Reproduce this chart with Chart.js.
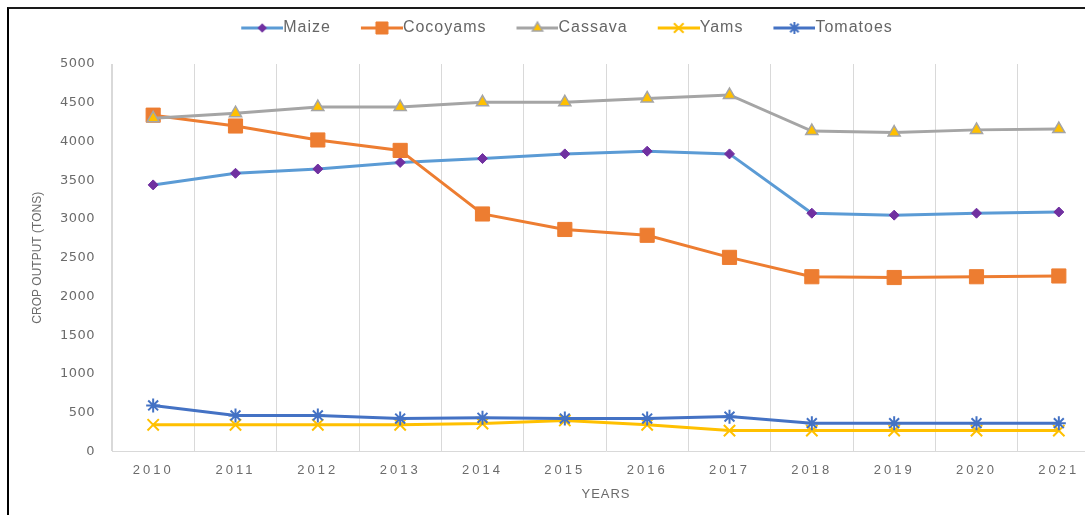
<!DOCTYPE html>
<html><head><meta charset="utf-8">
<script src="https://cdn.jsdelivr.net/npm/chart.js@4.4.1/dist/chart.umd.min.js"></script>
<style>
html,body{margin:0;padding:0;background:#fff;overflow:hidden;width:1085px;height:515px;}
#c{position:absolute;left:0;top:0;}
#frame{position:absolute;left:7px;top:7px;width:2000px;height:2000px;border-left:2px solid #000;border-top:2px solid #1a1a1a;pointer-events:none;}
</style></head><body>
<canvas id="c" width="1122" height="515"></canvas>
<div id="frame"></div>
<script>
const years = ['2010','2011','2012','2013','2014','2015','2016','2017','2018','2019','2020','2021'];
const maize    = [3440, 3590, 3645, 3730, 3780, 3840, 3875, 3840, 3075, 3050, 3075, 3090];
const cocoyams = [4340, 4200, 4020, 3885, 3065, 2865, 2790, 2505, 2255, 2245, 2255, 2265];
const cassava  = [4300, 4365, 4445, 4445, 4505, 4505, 4555, 4600, 4135, 4115, 4150, 4160];
const yams     = [345, 345, 345, 345, 360, 400, 345, 270, 270, 270, 270, 270];
const tomatoes = [595, 465, 465, 425, 435, 425, 425, 450, 365, 365, 365, 365];
const seriesNames = ['Maize', 'Cocoyams', 'Cassava', 'Yams', 'Tomatoes'];
const seriesData = [maize, cocoyams, cassava, yams, tomatoes];
const yMin = 0, yMax = 5000, yStep = 500;
const yTitle = 'CROP OUTPUT (TONS)';
const xTitle = 'YEARS';

const styles = [
  {line:'#5B9BD5', point:'rectRot',  r:5,  fill:'#7030A0', stroke:'#7030A0', bw:1},
  {line:'#ED7D31', point:'rect',     r:10, fill:'#ED7D31', stroke:'#ED7D31', bw:1},
  {line:'#A5A5A5', point:'triangle', r:7,  fill:'#FFC000', stroke:'#A5A5A5', bw:1.5},
  {line:'#FFC000', point:'crossRot', r:8,  fill:'#FFC000', stroke:'#FFC000', bw:2},
  {line:'#4472C4', point:'star',     r:7,  fill:'#4472C4', stroke:'#4472C4', bw:2}
];

function legendImage(s){
  const W = 62, H = 20;
  const cv = document.createElement('canvas');
  cv.width = W; cv.height = H;
  const c = cv.getContext('2d');
  c.strokeStyle = s.line; c.lineWidth = 3;
  c.beginPath(); c.moveTo(20, H/2); c.lineTo(62, H/2); c.stroke();
  c.fillStyle = s.fill; c.strokeStyle = s.stroke; c.lineWidth = s.bw;
  Chart.helpers.drawPoint(c, {pointStyle: s.point, radius: s.r * 0.85, borderWidth: s.bw, rotation: 0}, 41, H/2);
  return cv;
}
const legendImgs = styles.map(legendImage);

const gray = '#6b6b6b';
const sans = "'Liberation Sans', sans-serif";

function withSpacing(obj, method, spacing){
  const orig = obj[method];
  obj[method] = function(){
    const ctx = this.ctx; const old = ctx.letterSpacing;
    ctx.letterSpacing = spacing;
    const r = orig.apply(this, arguments);
    ctx.letterSpacing = old;
    return r;
  };
}

const spacingPlugin = {
  id: 'letterSpacing',
  beforeLayout(chart){ chart.ctx.letterSpacing = '1px'; },
  beforeDraw(chart){
    chart.ctx.letterSpacing = '1px';
    const x = chart.scales.x, y = chart.scales.y;
    if (!x._lsPatched) { withSpacing(x, 'drawLabels', '3px'); withSpacing(x, 'drawTitle', '1px'); x._lsPatched = true; }
    if (!y._lsPatched) { withSpacing(y, 'drawTitle', '0px'); withSpacing(y, 'drawLabels', '0.5px'); y._lsPatched = true; }
  }
};

const datasets = seriesNames.map((name, i) => ({
  label: name,
  data: seriesData[i],
  borderColor: styles[i].line,
  backgroundColor: styles[i].fill,
  borderWidth: 3,
  pointStyle: styles[i].point,
  pointRadius: styles[i].r,
  pointHoverRadius: styles[i].r,
  pointBackgroundColor: styles[i].fill,
  pointBorderColor: styles[i].stroke,
  pointBorderWidth: styles[i].bw,
  tension: 0,
  order: seriesNames.length - i,
  fill: false
}));

new Chart(document.getElementById('c'), {
  type: 'line',
  data: { labels: years, datasets },
  plugins: [spacingPlugin],
  options: {
    responsive: false,
    animation: false,
    devicePixelRatio: 1,
    layout: { padding: { top: 2, left: 0, right: 0, bottom: 0 } },
    plugins: {
      tooltip: { enabled: false },
      legend: {
        position: 'top',
        labels: {
          usePointStyle: true,
          pointStyleWidth: 46,
          padding: 18,
          color: '#666666',
          font: { family: sans, size: 16 },
          sort: (a, b) => a.datasetIndex - b.datasetIndex,
          generateLabels(chart){
            const items = Chart.defaults.plugins.legend.labels.generateLabels(chart);
            items.forEach(it => { it.pointStyle = legendImgs[it.datasetIndex]; });
            return items;
          }
        }
      }
    },
    scales: {
      x: {
        offset: true,
        grid: { offset: true, color: '#d9d9d9', lineWidth: 1, drawTicks: false },
        border: { display: true, color: '#d9d9d9', width: 1 },
        ticks: { color: gray, padding: 11, font: { family: sans, size: 13 } },
        title: { display: true, text: xTitle, color: gray, font: { family: sans, size: 13 }, padding: { top: 0, bottom: 13 } },
        afterFit(s){ s.height = 63.5; }
      },
      xTop: {
        type: 'linear',
        axis: 'x',
        position: 'top',
        display: true,
        grid: { display: false, drawTicks: false },
        border: { display: false },
        ticks: { display: false },
        afterFit(s){ s.height = 18; }
      },
      y: {
        min: yMin, max: yMax,
        ticks: { stepSize: yStep, color: gray, padding: 17, font: { family: "'DejaVu Sans', sans-serif", size: 13 },
                 callback: (v) => String(v) },
        grid: { display: false, drawTicks: false },
        border: { display: true, color: '#d9d9d9', width: 1 },
        title: { display: true, text: yTitle, color: gray, font: { family: sans, size: 12 }, padding: { top: 30.8, bottom: 0 } },
        afterFit(s){ s.width = 112; }
      },
      y2: {
        position: 'right',
        display: true,
        grid: { display: false, drawTicks: false },
        border: { display: false },
        ticks: { display: false },
        afterFit(s){ s.width = 22; }
      }
    }
  }
});
</script>
</body></html>
